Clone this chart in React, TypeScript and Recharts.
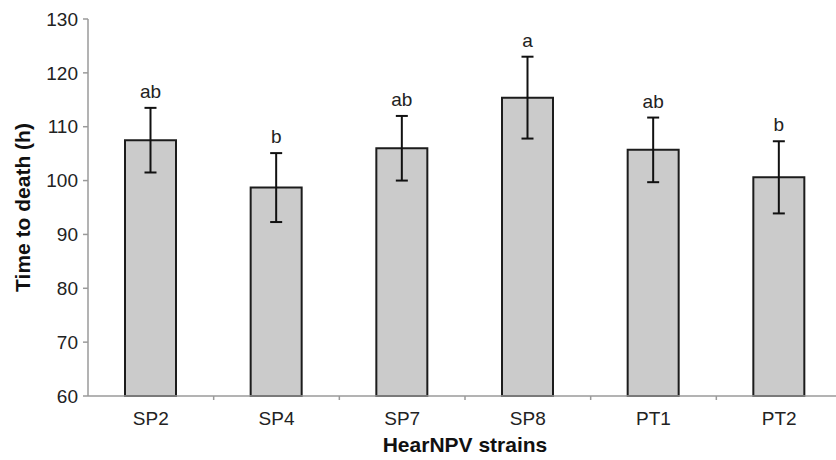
import React from 'react';
import { BarChart, Bar, XAxis, YAxis, ErrorBar, LabelList } from 'recharts';

// Tiempo hasta la muerte por cepa
const strains = ['SP2', 'SP4', 'SP7', 'SP8', 'PT1', 'PT2'];
const meanHours = [107.5, 98.7, 106.0, 115.4, 105.7, 100.6];
const errHours = [6.0, 6.4, 6.0, 7.6, 6.0, 6.7];
const letters = ['ab', 'b', 'ab', 'a', 'ab', 'b'];
const yTicks = [60, 70, 80, 90, 100, 110, 120, 130];

const data = strains.map((s, i) => ({
  strain: s,
  mean: meanHours[i],
  err: errHours[i],
  letter: letters[i],
}));

const FONT = '"Liberation Sans", Arial, sans-serif';
const AXIS_GRAY = '#9a9a9a';

const XTick = (props: any) => {
  const { x, y, payload, index } = props;
  const half = payload.offset || 0;
  return (
    <g>
      {index > 0 && (
        <line x1={x - half} x2={x - half} y1={y - 8} y2={y - 4} stroke={AXIS_GRAY} strokeWidth={1.5} />
      )}
      <text x={x} y={y + 21} textAnchor="middle" fontSize={19} fontFamily={FONT} fill="#222">
        {payload.value}
      </text>
    </g>
  );
};

const LetterLabel = (props: any) => {
  const { x, y, width, height, index } = props;
  const d = data[index];
  const pxPerUnit = height / (d.mean - 60);
  const errTop = y - d.err * pxPerUnit;
  return (
    <text x={x + width / 2} y={errTop - 10} textAnchor="middle" fontSize={19} fontFamily={FONT} fill="#222">
      {d.letter}
    </text>
  );
};

const App: React.FC = () => {
  return (
    <div style={{ position: 'absolute', left: 0, top: 0, width: 836, height: 460, overflow: 'hidden', background: '#fff' }}>
      <BarChart width={842} height={460} data={data} margin={{ top: 19, right: 0, left: 0, bottom: 0 }}>
        <XAxis
          dataKey="strain"
          height={64}
          tickLine={false}
          tick={<XTick />}
          axisLine={{ stroke: AXIS_GRAY, strokeWidth: 1.5 }}
          label={{
            content: (p: any) => {
              const vb = p.viewBox;
              return (
                <text x={vb.x + vb.width / 2} y={vb.y + 56} textAnchor="middle" fontSize={21} fontWeight="bold" fontFamily={FONT} fill="#111">
                  HearNPV strains
                </text>
              );
            },
          }}
        />
        <YAxis
          width={88}
          domain={[60, 130]}
          ticks={yTicks}
          interval={0}
          tickSize={5}
          tickMargin={5}
          tick={{ fontSize: 19, fontFamily: FONT, fill: '#222' }}
          axisLine={{ stroke: AXIS_GRAY, strokeWidth: 1.5 }}
          tickLine={{ stroke: AXIS_GRAY, strokeWidth: 1.5 }}
          label={{
            content: (p: any) => {
              const vb = p.viewBox;
              const cx = vb.x + 22;
              const cy = vb.y + vb.height / 2;
              return (
                <text x={cx} y={cy} transform={`rotate(-90, ${cx}, ${cy})`} textAnchor="middle" dominantBaseline="central" fontSize={21} fontWeight="bold" fontFamily={FONT} fill="#111">
                  Time to death (h)
                </text>
              );
            },
          }}
        />
        <Bar dataKey="mean" fill="#cbcbcb" stroke="#1c1c1c" strokeWidth={2} barSize={51} isAnimationActive={false}>
          <ErrorBar dataKey="err" width={6} stroke="#111" strokeWidth={2} isAnimationActive={false} />
          <LabelList dataKey="letter" content={<LetterLabel />} />
        </Bar>
      </BarChart>
    </div>
  );
};

export default App;
